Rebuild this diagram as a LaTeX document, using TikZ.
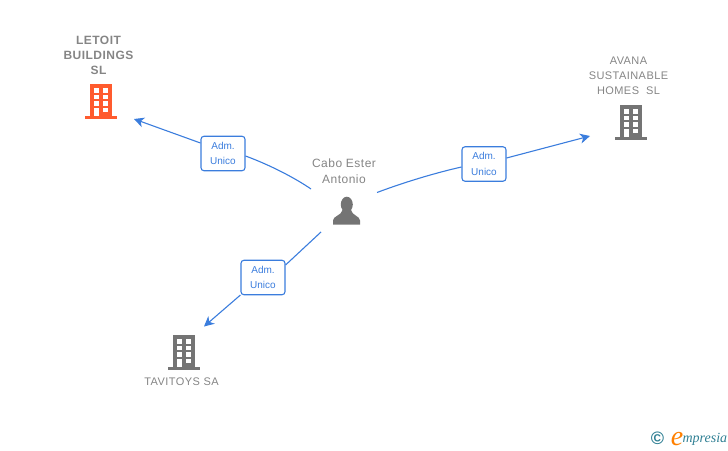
\documentclass[tikz,border=0pt]{standalone}
\usepackage{fontspec}
\setmainfont{Liberation Sans}
\newfontfamily\logofont{Liberation Serif}
\newfontfamily\spacedfont[LetterSpace=4]{Liberation Sans}
\usetikzlibrary{arrows.meta,positioning}
\definecolor{linkblue}{HTML}{3B7DDD}
\definecolor{iconorange}{HTML}{FF5B2E}
\definecolor{icongray}{HTML}{747474}
\definecolor{textgray}{HTML}{858585}
\definecolor{logoteal}{HTML}{2F7F93}
\tikzset{font=\fontsize{11}{15}\selectfont}
\tikzset{entity/.style={text=textgray, align=center, inner sep=0pt, font=\fontsize{11}{15}\selectfont\spacedfont}}
\tikzset{role/.style={draw=linkblue, fill=white, rounded corners=3pt, line width=1.1pt, text=linkblue, align=center,
    minimum width=44pt, minimum height=34.5pt, inner sep=0pt, font=\fontsize{10}{15.5}\selectfont}}
\tikzset{link/.style={draw=linkblue, line width=1.1pt}}
\tikzset{linkend/.style={link, -{Stealth[length=10pt,width=10pt,inset=3pt]}}}
\tikzset{building/.pic={
    \fill[#1] (-11,0) rectangle (11,32);
    \fill[#1] (-16,32) rectangle (16,34.5);
    \foreach \x in {-7,2.2} {
      \foreach \y in {4,10.5,17} {
        \fill[white] (\x,\y) rectangle ++(5,4.6);
      }
    }
    \fill[white] (-7,23.5) rectangle ++(5,8.5);
    \fill[white] (2.2,23.5) rectangle ++(5,4.6);
}}
\tikzset{person/.pic={
    \fill[icongray] (0.3,0.5) ellipse (6 and 7.8);
    \fill[icongray] (-13.5,20.5) -- (-13.5,16.5) .. controls (-13.5,12) and (-5,11.5) .. (-4,6)
      -- (4.5,6) .. controls (5.5,11.5) and (13.5,12) .. (13.5,16.5) -- (13.5,20.5) --cycle;
}}

\begin{document}
\begin{tikzpicture}[x=1pt,y=-1pt]
  \useasboundingbox (0,0) rectangle (728,450);
  % companies
  \node[entity, font=\fontsize{12}{15}\selectfont\bfseries\spacedfont] (letoit) at (98.5,55) {LETOIT\\BUILDINGS\\SL};
  \node[entity] (avana) at (628.5,76) {AVANA\\SUSTAINABLE\\HOMES\ \ SL};
  \node[entity] (tavitoys) at (181.5,382) {TAVITOYS SA};
  \node[entity, font=\fontsize{12}{16}\selectfont\spacedfont] (cabo) at (344,171.5) {Cabo Ester\\Antonio};
  \path (101,84) pic {building=iconorange};
  \path (631,105) pic {building=icongray};
  \path (184,335) pic {building=icongray};
  \path (346.5,204) pic {person};
  % roles
  \node[role] (adm1) at (223,153.5) {Adm.\\Unico};
  \node[role] (adm2) at (484,164) {Adm.\\Unico};
  \node[role] (adm3) at (263,277.5) {Adm.\\Unico};
  % free ends of the links
  \coordinate (start1) at (311,189);
  \coordinate (start2) at (377,192.5);
  \coordinate (start3) at (321,232);
  \coordinate (end1) at (134,119);
  \coordinate (end2) at (590,136);
  \coordinate (end3) at (204,326.5);
  \draw[link] (start1) .. controls (295,178) and (270,165) .. (adm1.east |- 0,156);
  \draw[linkend] (adm1.west |- 0,143) -- (end1);
  \draw[link] (start2) .. controls (405,182) and (435,173) .. (adm2.west |- 0,167);
  \draw[linkend] (adm2.east |- 0,158) -- (end2);
  \draw[link] (start3) -- (adm3.east |- 0,265);
  \draw[linkend] (adm3.west |- 0,295) -- (end3);
  % logo
  \node[inner sep=0pt, text=logoteal, font=\fontsize{18}{18}\selectfont\bfseries] (copyr) at (657.5,438.5) {\char"00A9};
  \node[inner sep=0pt, text=orange, font=\fontsize{28}{28}\selectfont\logofont\itshape] (logoe) at (677,439) {e};
  \node[inner sep=0pt, text=logoteal, font=\fontsize{14}{14}\selectfont\logofont\itshape, right=-1pt of logoe.east, yshift=0pt] (logotext) {mpresia};
\end{tikzpicture}
\end{document}
